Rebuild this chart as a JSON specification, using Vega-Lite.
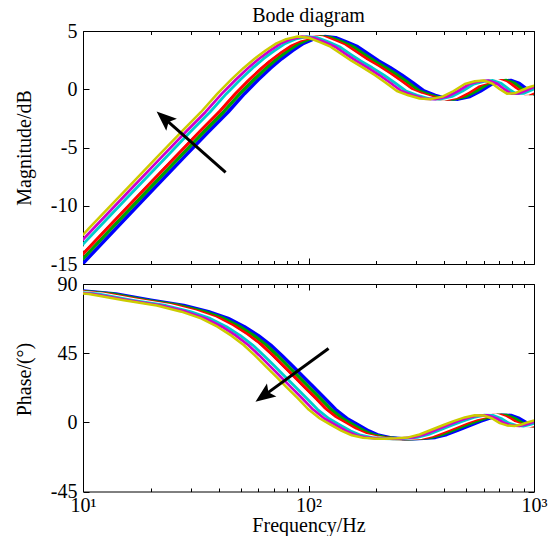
{
  "$schema": "https://vega.github.io/schema/vega-lite/v6.json",
  "padding": {"left": 13, "top": 5, "right": 5, "bottom": 0},
  "spacing": -2,
  "config": {
    "view": {"stroke": "#000000", "strokeWidth": 1},
    "axis": {"labelFont": "Liberation Serif", "titleFont": "Liberation Serif", "labelFontSize": 20, "titleFontSize": 20, "titleFontWeight": "normal", "labelColor": "#000000", "titleColor": "#000000", "tickColor": "#000000", "tickWidth": 1, "domain": false, "grid": false, "labelFlush": false, "labelOverlap": false}
  },
  "datasets": {
    "c": [
      {"c":"b","f":10,"m":-14.95,"p":85.5},{"c":"b","f":14,"m":-11.95,"p":83.5},{"c":"b","f":20,"m":-8.8,"p":79.4},{"c":"b","f":28,"m":-5.85,"p":76.0},{"c":"b","f":36,"m":-3.65,"p":72.0},{"c":"b","f":44,"m":-1.95,"p":67.6},{"c":"b","f":52,"m":-0.38,"p":62.2},{"c":"b","f":60,"m":0.84,"p":56.4},{"c":"b","f":68,"m":1.83,"p":50.3},{"c":"b","f":76,"m":2.62,"p":43.7},{"c":"b","f":85,"m":3.32,"p":36.6},{"c":"b","f":95,"m":3.94,"p":29.5},{"c":"b","f":105,"m":4.3,"p":23.1},{"c":"b","f":118,"m":4.52,"p":15.7},{"c":"b","f":132,"m":4.42,"p":8.3},{"c":"b","f":148,"m":4.05,"p":2.5},{"c":"b","f":165,"m":3.65,"p":-1.5},{"c":"b","f":185,"m":3.0,"p":-5.6},{"c":"b","f":205,"m":2.43,"p":-8.4},{"c":"b","f":230,"m":1.86,"p":-10.0},{"c":"b","f":260,"m":1.2,"p":-10.6},{"c":"b","f":290,"m":0.56,"p":-10.7},{"c":"b","f":325,"m":-0.15,"p":-10.4},{"c":"b","f":365,"m":-0.52,"p":-9.8},{"c":"b","f":410,"m":-0.8,"p":-7.9},{"c":"b","f":460,"m":-0.85,"p":-5.0},{"c":"b","f":520,"m":-0.62,"p":-1.9},{"c":"b","f":580,"m":-0.15,"p":0.8},{"c":"b","f":650,"m":0.45,"p":3.2},{"c":"b","f":720,"m":0.68,"p":4.6},{"c":"b","f":790,"m":0.75,"p":4.5},{"c":"b","f":860,"m":0.5,"p":2.5},{"c":"b","f":930,"m":0.0,"p":-0.5},{"c":"b","f":1000,"m":-0.38,"p":-2.0},{"c":"b","f":1080,"m":-0.35,"p":-2.4},{"c":"b","f":1160,"m":-0.1,"p":-1.4},{"c":"b","f":1240,"m":0.15,"p":0.1},{"c":"b","f":1320,"m":0.3,"p":1.2},
      {"c":"g","f":9.55,"m":-14.95,"p":85.5},{"c":"g","f":13.37,"m":-11.95,"p":83.5},{"c":"g","f":19.1,"m":-8.8,"p":79.4},{"c":"g","f":26.74,"m":-5.85,"p":76.0},{"c":"g","f":34.38,"m":-3.65,"p":72.0},{"c":"g","f":42.02,"m":-1.95,"p":67.6},{"c":"g","f":49.66,"m":-0.38,"p":62.2},{"c":"g","f":57.3,"m":0.84,"p":56.4},{"c":"g","f":64.94,"m":1.83,"p":50.3},{"c":"g","f":72.58,"m":2.62,"p":43.7},{"c":"g","f":81.17,"m":3.32,"p":36.6},{"c":"g","f":90.72,"m":3.94,"p":29.5},{"c":"g","f":100.27,"m":4.3,"p":23.1},{"c":"g","f":112.69,"m":4.52,"p":15.7},{"c":"g","f":126.06,"m":4.42,"p":8.3},{"c":"g","f":141.34,"m":4.05,"p":2.5},{"c":"g","f":157.57,"m":3.65,"p":-1.5},{"c":"g","f":176.67,"m":3.0,"p":-5.6},{"c":"g","f":195.77,"m":2.43,"p":-8.4},{"c":"g","f":219.65,"m":1.86,"p":-10.0},{"c":"g","f":248.3,"m":1.2,"p":-10.6},{"c":"g","f":276.95,"m":0.56,"p":-10.7},{"c":"g","f":310.37,"m":-0.15,"p":-10.4},{"c":"g","f":348.57,"m":-0.52,"p":-9.8},{"c":"g","f":391.55,"m":-0.8,"p":-7.9},{"c":"g","f":439.3,"m":-0.85,"p":-5.0},{"c":"g","f":496.59,"m":-0.62,"p":-1.9},{"c":"g","f":553.89,"m":-0.15,"p":0.8},{"c":"g","f":620.74,"m":0.45,"p":3.2},{"c":"g","f":687.59,"m":0.68,"p":4.6},{"c":"g","f":754.44,"m":0.75,"p":4.5},{"c":"g","f":821.29,"m":0.5,"p":2.5},{"c":"g","f":888.14,"m":0.0,"p":-0.5},{"c":"g","f":954.99,"m":-0.38,"p":-2.0},{"c":"g","f":1031.4,"m":-0.35,"p":-2.4},{"c":"g","f":1107.8,"m":-0.1,"p":-1.4},{"c":"g","f":1184.2,"m":0.15,"p":0.1},{"c":"g","f":1260.6,"m":0.3,"p":1.2},
      {"c":"r","f":9.12,"m":-14.95,"p":85.5},{"c":"r","f":12.77,"m":-11.95,"p":83.5},{"c":"r","f":18.24,"m":-8.8,"p":79.4},{"c":"r","f":25.54,"m":-5.85,"p":76.0},{"c":"r","f":32.83,"m":-3.65,"p":72.0},{"c":"r","f":40.13,"m":-1.95,"p":67.6},{"c":"r","f":47.42,"m":-0.38,"p":62.2},{"c":"r","f":54.72,"m":0.84,"p":56.4},{"c":"r","f":62.02,"m":1.83,"p":50.3},{"c":"r","f":69.31,"m":2.62,"p":43.7},{"c":"r","f":77.52,"m":3.32,"p":36.6},{"c":"r","f":86.64,"m":3.94,"p":29.5},{"c":"r","f":95.76,"m":4.3,"p":23.1},{"c":"r","f":107.62,"m":4.52,"p":15.7},{"c":"r","f":120.39,"m":4.42,"p":8.3},{"c":"r","f":134.98,"m":4.05,"p":2.5},{"c":"r","f":150.48,"m":3.65,"p":-1.5},{"c":"r","f":168.72,"m":3.0,"p":-5.6},{"c":"r","f":186.96,"m":2.43,"p":-8.4},{"c":"r","f":209.76,"m":1.86,"p":-10.0},{"c":"r","f":237.12,"m":1.2,"p":-10.6},{"c":"r","f":264.48,"m":0.56,"p":-10.7},{"c":"r","f":296.4,"m":-0.15,"p":-10.4},{"c":"r","f":332.88,"m":-0.52,"p":-9.8},{"c":"r","f":373.92,"m":-0.8,"p":-7.9},{"c":"r","f":419.52,"m":-0.85,"p":-5.0},{"c":"r","f":474.25,"m":-0.62,"p":-1.9},{"c":"r","f":528.97,"m":-0.15,"p":0.8},{"c":"r","f":592.81,"m":0.45,"p":3.2},{"c":"r","f":656.65,"m":0.68,"p":4.6},{"c":"r","f":720.49,"m":0.75,"p":4.5},{"c":"r","f":784.33,"m":0.5,"p":2.5},{"c":"r","f":848.17,"m":0.0,"p":-0.5},{"c":"r","f":912.01,"m":-0.38,"p":-2.0},{"c":"r","f":984.97,"m":-0.35,"p":-2.4},{"c":"r","f":1057.9,"m":-0.1,"p":-1.4},{"c":"r","f":1130.9,"m":0.15,"p":0.1},{"c":"r","f":1203.9,"m":0.3,"p":1.2},
      {"c":"w","f":8.71,"m":-14.95,"p":85.5},{"c":"w","f":12.19,"m":-11.95,"p":83.5},{"c":"w","f":17.42,"m":-8.8,"p":79.4},{"c":"w","f":24.39,"m":-5.85,"p":76.0},{"c":"w","f":31.35,"m":-3.65,"p":72.0},{"c":"w","f":38.32,"m":-1.95,"p":67.6},{"c":"w","f":45.29,"m":-0.38,"p":62.2},{"c":"w","f":52.26,"m":0.84,"p":56.4},{"c":"w","f":59.23,"m":1.83,"p":50.3},{"c":"w","f":66.19,"m":2.62,"p":43.7},{"c":"w","f":74.03,"m":3.32,"p":36.6},{"c":"w","f":82.74,"m":3.94,"p":29.5},{"c":"w","f":91.45,"m":4.3,"p":23.1},{"c":"w","f":102.77,"m":4.52,"p":15.7},{"c":"w","f":114.97,"m":4.42,"p":8.3},{"c":"w","f":128.9,"m":4.05,"p":2.5},{"c":"w","f":143.71,"m":3.65,"p":-1.5},{"c":"w","f":161.13,"m":3.0,"p":-5.6},{"c":"w","f":178.55,"m":2.43,"p":-8.4},{"c":"w","f":200.32,"m":1.86,"p":-10.0},{"c":"w","f":226.45,"m":1.2,"p":-10.6},{"c":"w","f":252.58,"m":0.56,"p":-10.7},{"c":"w","f":283.06,"m":-0.15,"p":-10.4},{"c":"w","f":317.9,"m":-0.52,"p":-9.8},{"c":"w","f":357.09,"m":-0.8,"p":-7.9},{"c":"w","f":400.64,"m":-0.85,"p":-5.0},{"c":"w","f":452.9,"m":-0.62,"p":-1.9},{"c":"w","f":505.16,"m":-0.15,"p":0.8},{"c":"w","f":566.12,"m":0.45,"p":3.2},{"c":"w","f":627.09,"m":0.68,"p":4.6},{"c":"w","f":688.06,"m":0.75,"p":4.5},{"c":"w","f":749.03,"m":0.5,"p":2.5},{"c":"w","f":810.0,"m":0.0,"p":-0.5},{"c":"w","f":870.96,"m":-0.38,"p":-2.0},{"c":"w","f":940.64,"m":-0.35,"p":-2.4},{"c":"w","f":1010.3,"m":-0.1,"p":-1.4},{"c":"w","f":1080.0,"m":0.15,"p":0.1},{"c":"w","f":1149.7,"m":0.3,"p":1.2},
      {"c":"c","f":8.32,"m":-14.95,"p":85.5},{"c":"c","f":11.64,"m":-11.95,"p":83.5},{"c":"c","f":16.64,"m":-8.8,"p":79.4},{"c":"c","f":23.29,"m":-5.85,"p":76.0},{"c":"c","f":29.94,"m":-3.65,"p":72.0},{"c":"c","f":36.6,"m":-1.95,"p":67.6},{"c":"c","f":43.25,"m":-0.38,"p":62.2},{"c":"c","f":49.91,"m":0.84,"p":56.4},{"c":"c","f":56.56,"m":1.83,"p":50.3},{"c":"c","f":63.21,"m":2.62,"p":43.7},{"c":"c","f":70.7,"m":3.32,"p":36.6},{"c":"c","f":79.02,"m":3.94,"p":29.5},{"c":"c","f":87.33,"m":4.3,"p":23.1},{"c":"c","f":98.15,"m":4.52,"p":15.7},{"c":"c","f":109.79,"m":4.42,"p":8.3},{"c":"c","f":123.1,"m":4.05,"p":2.5},{"c":"c","f":137.24,"m":3.65,"p":-1.5},{"c":"c","f":153.88,"m":3.0,"p":-5.6},{"c":"c","f":170.51,"m":2.43,"p":-8.4},{"c":"c","f":191.3,"m":1.86,"p":-10.0},{"c":"c","f":216.26,"m":1.2,"p":-10.6},{"c":"c","f":241.21,"m":0.56,"p":-10.7},{"c":"c","f":270.32,"m":-0.15,"p":-10.4},{"c":"c","f":303.59,"m":-0.52,"p":-9.8},{"c":"c","f":341.02,"m":-0.8,"p":-7.9},{"c":"c","f":382.61,"m":-0.85,"p":-5.0},{"c":"c","f":432.52,"m":-0.62,"p":-1.9},{"c":"c","f":482.42,"m":-0.15,"p":0.8},{"c":"c","f":540.64,"m":0.45,"p":3.2},{"c":"c","f":598.87,"m":0.68,"p":4.6},{"c":"c","f":657.09,"m":0.75,"p":4.5},{"c":"c","f":715.31,"m":0.5,"p":2.5},{"c":"c","f":773.54,"m":0.0,"p":-0.5},{"c":"c","f":831.76,"m":-0.38,"p":-2.0},{"c":"c","f":898.3,"m":-0.35,"p":-2.4},{"c":"c","f":964.84,"m":-0.1,"p":-1.4},{"c":"c","f":1031.4,"m":0.15,"p":0.1},{"c":"c","f":1097.9,"m":0.3,"p":1.2},
      {"c":"m","f":7.94,"m":-14.95,"p":85.5},{"c":"m","f":11.12,"m":-11.95,"p":83.5},{"c":"m","f":15.89,"m":-8.8,"p":79.4},{"c":"m","f":22.24,"m":-5.85,"p":76.0},{"c":"m","f":28.6,"m":-3.65,"p":72.0},{"c":"m","f":34.95,"m":-1.95,"p":67.6},{"c":"m","f":41.31,"m":-0.38,"p":62.2},{"c":"m","f":47.66,"m":0.84,"p":56.4},{"c":"m","f":54.01,"m":1.83,"p":50.3},{"c":"m","f":60.37,"m":2.62,"p":43.7},{"c":"m","f":67.52,"m":3.32,"p":36.6},{"c":"m","f":75.46,"m":3.94,"p":29.5},{"c":"m","f":83.4,"m":4.3,"p":23.1},{"c":"m","f":93.73,"m":4.52,"p":15.7},{"c":"m","f":104.85,"m":4.42,"p":8.3},{"c":"m","f":117.56,"m":4.05,"p":2.5},{"c":"m","f":131.06,"m":3.65,"p":-1.5},{"c":"m","f":146.95,"m":3.0,"p":-5.6},{"c":"m","f":162.84,"m":2.43,"p":-8.4},{"c":"m","f":182.7,"m":1.86,"p":-10.0},{"c":"m","f":206.53,"m":1.2,"p":-10.6},{"c":"m","f":230.36,"m":0.56,"p":-10.7},{"c":"m","f":258.16,"m":-0.15,"p":-10.4},{"c":"m","f":289.93,"m":-0.52,"p":-9.8},{"c":"m","f":325.68,"m":-0.8,"p":-7.9},{"c":"m","f":365.39,"m":-0.85,"p":-5.0},{"c":"m","f":413.05,"m":-0.62,"p":-1.9},{"c":"m","f":460.71,"m":-0.15,"p":0.8},{"c":"m","f":516.31,"m":0.45,"p":3.2},{"c":"m","f":571.92,"m":0.68,"p":4.6},{"c":"m","f":627.52,"m":0.75,"p":4.5},{"c":"m","f":683.12,"m":0.5,"p":2.5},{"c":"m","f":738.73,"m":0.0,"p":-0.5},{"c":"m","f":794.33,"m":-0.38,"p":-2.0},{"c":"m","f":857.88,"m":-0.35,"p":-2.4},{"c":"m","f":921.42,"m":-0.1,"p":-1.4},{"c":"m","f":984.97,"m":0.15,"p":0.1},{"c":"m","f":1048.5,"m":0.3,"p":1.2},
      {"c":"y","f":7.59,"m":-14.95,"p":85.5},{"c":"y","f":10.62,"m":-11.95,"p":83.5},{"c":"y","f":15.17,"m":-8.8,"p":79.4},{"c":"y","f":21.24,"m":-5.85,"p":76.0},{"c":"y","f":27.31,"m":-3.65,"p":72.0},{"c":"y","f":33.38,"m":-1.95,"p":67.6},{"c":"y","f":39.45,"m":-0.38,"p":62.2},{"c":"y","f":45.51,"m":0.84,"p":56.4},{"c":"y","f":51.58,"m":1.83,"p":50.3},{"c":"y","f":57.65,"m":2.62,"p":43.7},{"c":"y","f":64.48,"m":3.32,"p":36.6},{"c":"y","f":72.07,"m":3.94,"p":29.5},{"c":"y","f":79.65,"m":4.3,"p":23.1},{"c":"y","f":89.51,"m":4.52,"p":15.7},{"c":"y","f":100.13,"m":4.42,"p":8.3},{"c":"y","f":112.27,"m":4.05,"p":2.5},{"c":"y","f":125.17,"m":3.65,"p":-1.5},{"c":"y","f":140.34,"m":3.0,"p":-5.6},{"c":"y","f":155.51,"m":2.43,"p":-8.4},{"c":"y","f":174.47,"m":1.86,"p":-10.0},{"c":"y","f":197.23,"m":1.2,"p":-10.6},{"c":"y","f":219.99,"m":0.56,"p":-10.7},{"c":"y","f":246.54,"m":-0.15,"p":-10.4},{"c":"y","f":276.88,"m":-0.52,"p":-9.8},{"c":"y","f":311.02,"m":-0.8,"p":-7.9},{"c":"y","f":348.95,"m":-0.85,"p":-5.0},{"c":"y","f":394.46,"m":-0.62,"p":-1.9},{"c":"y","f":439.98,"m":-0.15,"p":0.8},{"c":"y","f":493.08,"m":0.45,"p":3.2},{"c":"y","f":546.18,"m":0.68,"p":4.6},{"c":"y","f":599.28,"m":0.75,"p":4.5},{"c":"y","f":652.38,"m":0.5,"p":2.5},{"c":"y","f":705.48,"m":0.0,"p":-0.5},{"c":"y","f":758.58,"m":-0.38,"p":-2.0},{"c":"y","f":819.27,"m":-0.35,"p":-2.4},{"c":"y","f":879.95,"m":-0.1,"p":-1.4},{"c":"y","f":940.64,"m":0.15,"p":0.1},{"c":"y","f":1001.3,"m":0.3,"p":1.2}
    ],
    "a1": [{"f1": 42.9, "v1": -7.14, "f2": 22.89, "v2": -2.48}],
    "h1": [{"f": 22.89, "v": -2.48}],
    "a2": [{"f1": 122.7, "v1": 48.0, "f2": 63.2, "v2": 17.2}],
    "h2": [{"f": 63.2, "v": 17.2}]
  },
  "vconcat": [
    {
      "width": 451,
      "height": 233,
      "title": {"text": "Bode diagram", "font": "Liberation Serif", "fontSize": 20, "fontWeight": "normal", "color": "#000000", "offset": -5, "frame": "group", "anchor": "middle"},
      "resolve": {"axis": {"x": "independent", "y": "independent"}},
      "layer": [
        {
          "data": {"name": "c"},
          "mark": {"type": "line", "clip": true, "strokeJoin": "round"},
          "encoding": {
            "x": {"field": "f", "type": "quantitative", "scale": {"type": "log", "domain": [10, 1000], "nice": false}, "axis": {"orient": "bottom", "values": [10, 100, 1000], "tickSize": -6, "tickColor": "#000000", "labels": false, "domain": false, "grid": false, "title": null}},
            "y": {"field": "m", "type": "quantitative", "scale": {"domain": [-15, 5], "nice": false, "zero": false}, "axis": {"orient": "left", "values": [-15, -10, -5, 0, 5], "tickSize": -6, "tickColor": "#000000", "domain": false, "grid": false, "labelPadding": 12, "labelFont": "Liberation Serif", "labelFontSize": 20, "labelColor": "#000000", "labelFlush": false, "labelOverlap": false, "labelExpr": "'' + datum.value", "title": "Magnitude/dB", "titleFont": "Liberation Serif", "titleFontSize": 20, "titleFontWeight": "normal", "titleColor": "#000000", "titleX": -59, "titleBaseline": "middle"}},
            "color": {"field": "c", "type": "nominal", "scale": {"domain": ["b", "g", "r", "w", "c", "m", "y"], "range": ["#0000ff", "#00a000", "#ff0000", "#ffffff", "#00cccc", "#cc00cc", "#cccc00"]}, "legend": null},
            "strokeWidth": {"field": "c", "type": "nominal", "scale": {"domain": ["b", "g", "r", "w", "c", "m", "y"], "range": [3.5, 2.5, 2.5, 2.5, 2.5, 2.5, 4]}, "legend": null}
          }
        },
        {
          "data": {"name": "a1"},
          "mark": {"type": "rule", "color": "#000000", "strokeWidth": 3},
          "encoding": {
            "x": {"field": "f1", "type": "quantitative", "scale": {"type": "log", "domain": [10, 1000], "nice": false}, "axis": {"orient": "bottom", "values": [20, 30, 40, 50, 60, 70, 80, 90, 200, 300, 400, 500, 600, 700, 800, 900], "tickSize": -3.5, "tickColor": "#000000", "labels": false, "domain": false, "grid": false, "title": null}},
            "y": {"field": "v1", "type": "quantitative", "scale": {"domain": [-15, 5], "nice": false, "zero": false}, "axis": {"orient": "right", "values": [-15, -10, -5, 0, 5], "tickSize": -6, "tickColor": "#000000", "labels": false, "domain": false, "grid": false, "title": null}},
            "x2": {"field": "f2"},
            "y2": {"field": "v2"}
          }
        },
        {
          "data": {"name": "h1"},
          "mark": {"type": "point", "shape": "M0,-1L0.8,1L0,0.6L-0.8,1Z", "filled": true, "color": "#000000", "opacity": 1, "size": 400, "angle": 311.5},
          "encoding": {
            "x": {"field": "f", "type": "quantitative", "scale": {"type": "log", "domain": [10, 1000], "nice": false}, "axis": {"orient": "top", "values": [10, 100, 1000], "tickSize": -6, "tickColor": "#000000", "labels": false, "domain": false, "grid": false, "title": null}},
            "y": {"field": "v", "type": "quantitative", "scale": {"domain": [-15, 5], "nice": false, "zero": false}, "axis": null}
          }
        },
        {
          "data": {"name": "a1"},
          "mark": {"type": "rule", "opacity": 0},
          "encoding": {
            "x": {"field": "f1", "type": "quantitative", "scale": {"type": "log", "domain": [10, 1000], "nice": false}, "axis": {"orient": "top", "values": [20, 30, 40, 50, 60, 70, 80, 90, 200, 300, 400, 500, 600, 700, 800, 900], "tickSize": -3.5, "tickColor": "#000000", "labels": false, "domain": false, "grid": false, "title": null}},
            "y": {"field": "v1", "type": "quantitative", "scale": {"domain": [-15, 5], "nice": false, "zero": false}, "axis": null}
          }
        }
      ]
    },
    {
      "width": 451,
      "height": 207.5,
      "resolve": {"axis": {"x": "independent", "y": "independent"}},
      "layer": [
        {
          "data": {"name": "c"},
          "mark": {"type": "line", "clip": true, "strokeJoin": "round"},
          "encoding": {
            "x": {"field": "f", "type": "quantitative", "scale": {"type": "log", "domain": [10, 1000], "nice": false}, "axis": {"orient": "bottom", "values": [10, 100, 1000], "tickSize": -6, "tickColor": "#000000", "domain": false, "grid": false, "labelPadding": 10, "labelFont": "Liberation Serif", "labelFontSize": 20, "labelColor": "#000000", "labelFlush": false, "labelOverlap": false, "labelExpr": "datum.value == 10 ? '10¹' : (datum.value == 100 ? '10²' : '10³')", "title": "Frequency/Hz", "titleFont": "Liberation Serif", "titleFontSize": 20, "titleFontWeight": "normal", "titleColor": "#000000", "titlePadding": 0}},
            "y": {"field": "p", "type": "quantitative", "scale": {"domain": [-45, 90], "nice": false, "zero": false}, "axis": {"orient": "left", "values": [-45, 0, 45, 90], "tickSize": -6, "tickColor": "#000000", "domain": false, "grid": false, "labelPadding": 12, "labelFont": "Liberation Serif", "labelFontSize": 20, "labelColor": "#000000", "labelFlush": false, "labelOverlap": false, "labelExpr": "'' + datum.value", "title": "Phase/(°)", "titleFont": "Liberation Serif", "titleFontSize": 20, "titleFontWeight": "normal", "titleColor": "#000000", "titleX": -59, "titleY": 95, "titleBaseline": "middle"}},
            "color": {"field": "c", "type": "nominal", "scale": {"domain": ["b", "g", "r", "w", "c", "m", "y"], "range": ["#0000ff", "#00a000", "#ff0000", "#ffffff", "#00cccc", "#cc00cc", "#cccc00"]}, "legend": null},
            "strokeWidth": {"field": "c", "type": "nominal", "scale": {"domain": ["b", "g", "r", "w", "c", "m", "y"], "range": [3.5, 2.5, 2.5, 2.5, 2.5, 2.5, 4]}, "legend": null}
          }
        },
        {
          "data": {"name": "a2"},
          "mark": {"type": "rule", "color": "#000000", "strokeWidth": 3},
          "encoding": {
            "x": {"field": "f1", "type": "quantitative", "scale": {"type": "log", "domain": [10, 1000], "nice": false}, "axis": {"orient": "bottom", "values": [20, 30, 40, 50, 60, 70, 80, 90, 200, 300, 400, 500, 600, 700, 800, 900], "tickSize": -3.5, "tickColor": "#000000", "labels": false, "domain": false, "grid": false, "title": null}},
            "y": {"field": "v1", "type": "quantitative", "scale": {"domain": [-45, 90], "nice": false, "zero": false}, "axis": {"orient": "right", "values": [-45, 0, 45, 90], "tickSize": -6, "tickColor": "#000000", "labels": false, "domain": false, "grid": false, "title": null}},
            "x2": {"field": "f2"},
            "y2": {"field": "v2"}
          }
        },
        {
          "data": {"name": "h2"},
          "mark": {"type": "point", "shape": "M0,-1L0.8,1L0,0.6L-0.8,1Z", "filled": true, "color": "#000000", "opacity": 1, "size": 400, "angle": 234},
          "encoding": {
            "x": {"field": "f", "type": "quantitative", "scale": {"type": "log", "domain": [10, 1000], "nice": false}, "axis": {"orient": "top", "values": [10, 100, 1000], "tickSize": -6, "tickColor": "#000000", "labels": false, "domain": false, "grid": false, "title": null}},
            "y": {"field": "v", "type": "quantitative", "scale": {"domain": [-45, 90], "nice": false, "zero": false}, "axis": null}
          }
        },
        {
          "data": {"name": "a2"},
          "mark": {"type": "rule", "opacity": 0},
          "encoding": {
            "x": {"field": "f1", "type": "quantitative", "scale": {"type": "log", "domain": [10, 1000], "nice": false}, "axis": {"orient": "top", "values": [20, 30, 40, 50, 60, 70, 80, 90, 200, 300, 400, 500, 600, 700, 800, 900], "tickSize": -3.5, "tickColor": "#000000", "labels": false, "domain": false, "grid": false, "title": null}},
            "y": {"field": "v1", "type": "quantitative", "scale": {"domain": [-45, 90], "nice": false, "zero": false}, "axis": null}
          }
        }
      ]
    }
  ]
}
